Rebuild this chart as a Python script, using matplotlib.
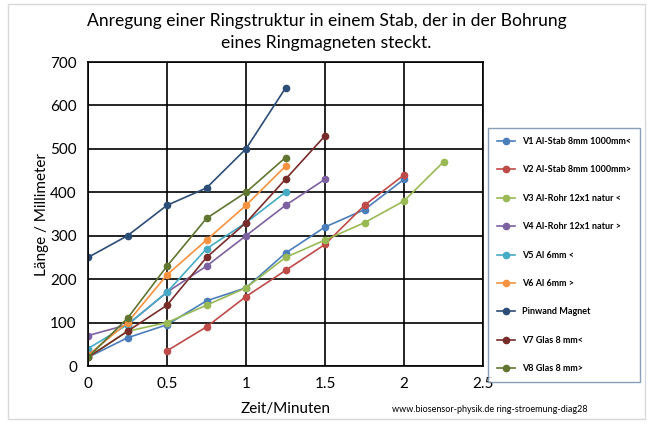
import matplotlib
matplotlib.use("Agg")
import matplotlib.pyplot as plt
from matplotlib.patches import Rectangle

plt.rcParams['font.family'] = ['Lato', 'DejaVu Sans']

# Zeit in Minuten
t = [0, 0.25, 0.5, 0.75, 1.0, 1.25, 1.5, 1.75, 2.0, 2.25]

v1 = [20, 65, 95, 150, 180, 260, 320, 360, 430]
v2_t = [0.5, 0.75, 1.0, 1.25, 1.5, 1.75, 2.0]
v2 = [35, 90, 160, 220, 280, 370, 440]
v3 = [20, 80, 100, 140, 180, 250, 290, 330, 380, 470]
v4 = [70, 95, 170, 230, 300, 370, 430]
v5 = [40, 95, 170, 270, 330, 400]
v6 = [25, 100, 210, 290, 370, 460]
pinwand = [250, 300, 370, 410, 500, 640]
v7 = [20, 80, 140, 250, 330, 430, 530]
v8 = [20, 110, 230, 340, 400, 480]

series = [
    ("V1 Al-Stab 8mm 1000mm<", t[:len(v1)], v1, "#4A7EBB"),
    ("V2 Al-Stab 8mm 1000mm>", v2_t, v2, "#BE4B48"),
    ("V3 Al-Rohr 12x1 natur <", t[:len(v3)], v3, "#98B954"),
    ("V4 Al-Rohr 12x1 natur >", t[:len(v4)], v4, "#7D60A0"),
    ("V5 Al 6mm <", t[:len(v5)], v5, "#46AAC5"),
    ("V6 Al 6mm >", t[:len(v6)], v6, "#F69240"),
    ("Pinwand Magnet", t[:len(pinwand)], pinwand, "#2C4D75"),
    ("V7 Glas 8 mm<", t[:len(v7)], v7, "#772C2A"),
    ("V8 Glas 8 mm>", t[:len(v8)], v8, "#5F7530"),
]

fig = plt.figure(figsize=(6.53, 4.34), dpi=100)
ax = fig.add_axes([88/653, 1 - 366/434, (483 - 88)/653, (366 - 62)/434])

for name, x, y, c in series:
    ax.plot(x, y, color=c, lw=1.2, marker='o', markersize=4.5, label=name)

ax.set_xlim(0, 2.5)
ax.set_ylim(0, 700)
ax.set_xticks([0, 0.5, 1, 1.5, 2, 2.5])
ax.set_xticklabels(['0', '0.5', '1', '1.5', '2', '2.5'])
ax.set_yticks(range(0, 701, 100))
ax.grid(True, color='black', lw=1.2)
ax.set_axisbelow(True)
for s in ax.spines.values():
    s.set_color('black')
    s.set_linewidth(1.2)
ax.tick_params(length=0, labelsize=11, pad=8)

ax.set_xlabel("Zeit/Minuten", fontsize=11, labelpad=8)
ax.set_ylabel("Länge / Millimeter", fontsize=11, labelpad=1)

fig.text(0.5, 0.97, "Anregung einer Ringstruktur in einem Stab, der in der Bohrung\neines Ringmagneten steckt.",
         ha='center', va='top', fontsize=12.6, linespacing=1.45)
fig.text(392/653, 1 - 410/434, "www.biosensor-physik.de ring-stroemung-diag28",
         ha='left', va='center', fontsize=6.5)

leg = fig.legend(loc='upper left', bbox_to_anchor=(488/653, 1 - 128/434),
                 fontsize=6.5, frameon=True, fancybox=False, labelspacing=2.15,
                 handlelength=2.0, borderpad=1.0, borderaxespad=0)
leg.get_frame().set_edgecolor('#6C87A8')
leg.get_frame().set_linewidth(1.0)
for txt in leg.get_texts():
    txt.set_fontweight('bold')

fig.patches.append(Rectangle((0.012, 0.035), 0.976, 0.955, transform=fig.transFigure,
                             fill=False, edgecolor='#D9D9D9', lw=1))

fig.savefig("out.png", dpi=100)
